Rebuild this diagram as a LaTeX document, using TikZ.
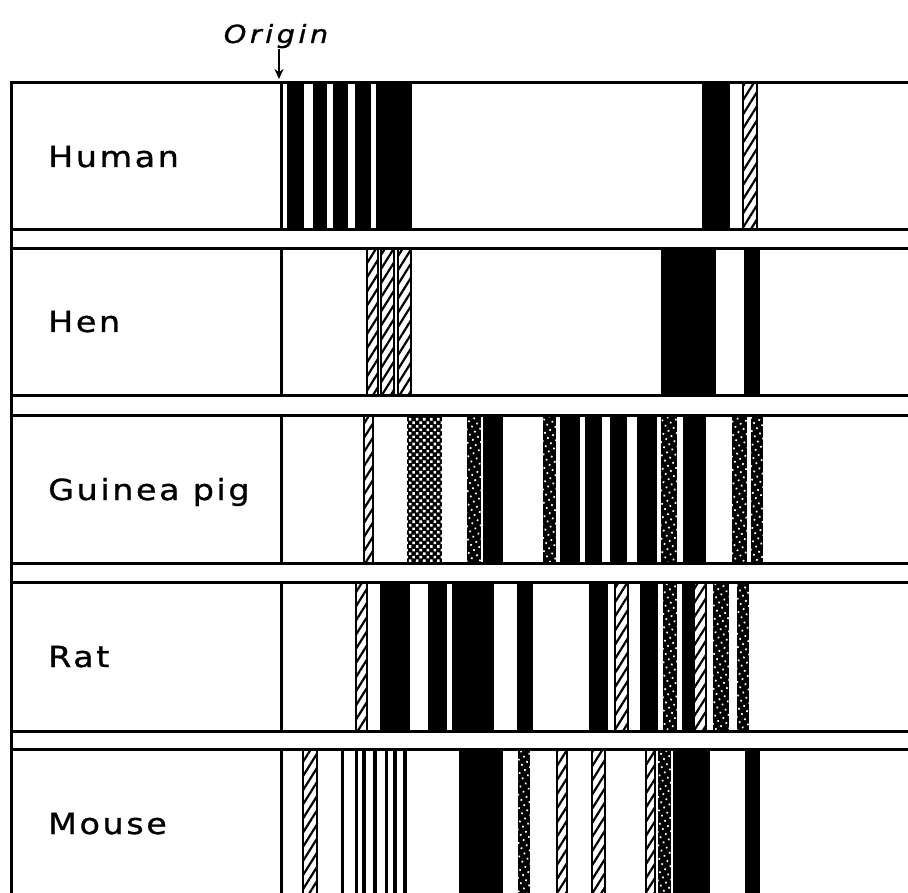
\documentclass[tikz,border=0pt]{standalone}
\usepackage{fontspec}
\setmainfont{DejaVu Sans}
\newfontfamily\labfont[LetterSpace=9,FakeStretch=1.15,FakeBold=1]{DejaVu Sans}
\newfontfamily\orifont[LetterSpace=14,FakeStretch=1.15,FakeBold=1]{DejaVu Sans Oblique}
\usetikzlibrary{patterns.meta,arrows.meta}
\newcommand\bandrect[3]{\path[#1] (#2,\rt) rectangle (#3,\rb);}
\tikzset{
  rowline/.style={line width=3pt, line cap=butt},
  blackband/.style={fill=black},
  hatchband/.style={fill=white, draw=black, line width=2.2pt,
     postaction={pattern={Lines[angle=58,distance=7.5pt,line width=2.2pt]}, pattern color=black}},
  dotband/.style={fill=black,
     postaction={pattern={Dots[distance=6pt,angle=30,radius=1.2pt]}, pattern color=white}},
  checkband/.style={fill=black,
     postaction={pattern={Dots[distance=5pt,angle=45,radius=1.8pt]}, pattern color=white}},
  lab/.style={anchor=base west, inner sep=0pt, font=\labfont\fontsize{29}{34}\selectfont},
}
\begin{document}
\begin{tikzpicture}[x=1pt,y=-1pt]
\useasboundingbox (0,0) rectangle (908,893);
\clip (0,0) rectangle (908,893);
% ---------- Human
\begin{scope}
\def\rt{83}\def\rb{230}
\bandrect{blackband}{287}{304}
\bandrect{blackband}{313}{327}
\bandrect{blackband}{333}{348}
\bandrect{blackband}{355}{371}
\bandrect{blackband}{376}{412}
\bandrect{blackband}{702}{730}
\bandrect{hatchband}{743}{757}
\end{scope}
% ---------- Hen
\begin{scope}
\def\rt{249}\def\rb{395}
\bandrect{hatchband}{367}{378}
\bandrect{hatchband}{381}{394}
\bandrect{hatchband}{398}{411}
\bandrect{blackband}{661}{716}
\bandrect{blackband}{744}{760}
\end{scope}
% ---------- Guinea pig
\begin{scope}
\def\rt{415}\def\rb{563}
\bandrect{hatchband}{364}{373}
\bandrect{checkband}{407}{442}
\bandrect{dotband}{467}{481}
\bandrect{blackband}{483}{503}
\bandrect{dotband}{543}{556}
\bandrect{blackband}{560}{580}
\bandrect{blackband}{585}{602}
\bandrect{blackband}{610}{627}
\bandrect{blackband}{637}{657}
\bandrect{dotband}{661}{677}
\bandrect{blackband}{683}{706}
\bandrect{dotband}{732}{747}
\bandrect{dotband}{751}{763}
\end{scope}
% ---------- Rat
\begin{scope}
\def\rt{582}\def\rb{731}
\bandrect{hatchband}{356}{367}
\bandrect{blackband}{380}{410}
\bandrect{blackband}{428}{447}
\bandrect{blackband}{452}{494}
\bandrect{blackband}{517}{533}
\bandrect{blackband}{589}{608}
\bandrect{hatchband}{615}{628}
\bandrect{blackband}{640}{658}
\bandrect{dotband}{663}{677}
\bandrect{blackband}{682}{693}
\bandrect{hatchband}{694}{706}
\bandrect{dotband}{713}{729}
\bandrect{dotband}{737}{749}
\end{scope}
% ---------- Mouse
\begin{scope}
\def\rt{749}\def\rb{900}
\bandrect{hatchband}{303}{317}
\bandrect{blackband}{341}{344}
\bandrect{blackband}{355}{358}
\bandrect{blackband}{362}{366}
\bandrect{blackband}{373}{377}
\bandrect{blackband}{385}{388}
\bandrect{blackband}{393}{397}
\bandrect{blackband}{403}{407}
\bandrect{blackband}{459}{503}
\bandrect{dotband}{518}{530}
\bandrect{hatchband}{557}{567}
\bandrect{hatchband}{592}{605}
\bandrect{hatchband}{646}{655}
\bandrect{dotband}{658}{671}
\bandrect{blackband}{673}{710}
\bandrect{blackband}{745}{760}
\end{scope}
% ---------- frame lines
\foreach \t/\b in {83/230,249/395,415/563,582/731,749/900}{
  \draw[rowline] (11,\t) -- (910,\t);
  \draw[rowline] (11,\b) -- (910,\b);
  \draw[rowline] (281,\t) -- (281,\b);
}
\draw[rowline] (11,81.5) -- (11,900);
% ---------- labels
\node[lab] (human)  at (48,167) {Human};
\node[lab] (hen)    at (48,332) {Hen};
\node[lab] (guinea) at (48,500) {Guinea pig};
\node[lab] (rat)    at (48,667) {Rat};
\node[lab] (mouse)  at (48,834) {Mouse};
\node[anchor=base, inner sep=1pt, font=\orifont\fontsize{25}{30}\selectfont] (origin) at (276,43) {Origin};
\coordinate (otip) at (279,79);
\draw[line width=2pt, -{Stealth[length=10pt,width=9pt]}] (origin.south -| otip) -- (otip);
\end{tikzpicture}
\end{document}
